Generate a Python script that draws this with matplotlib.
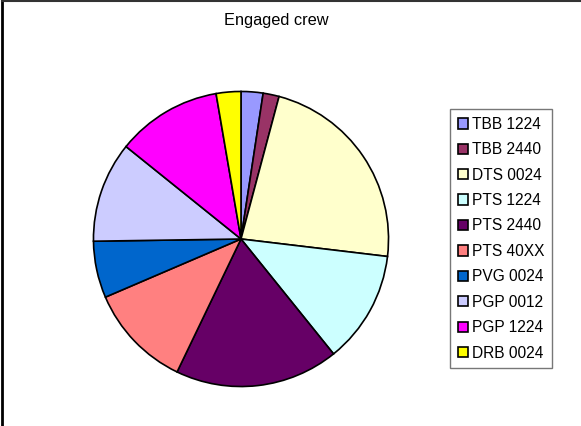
import matplotlib.pyplot as plt
from matplotlib.lines import Line2D

plt.rcParams['font.family'] = ['Liberation Sans', 'DejaVu Sans']

# Share of engaged crew per vessel group (percent)
labels = ['TBB 1224', 'TBB 2440', 'DTS 0024', 'PTS 1224', 'PTS 2440',
          'PTS 40XX', 'PVG 0024', 'PGP 0012', 'PGP 1224', 'DRB 0024']
shares = [2.4, 1.75, 22.7, 12.3, 17.9, 11.4, 6.2, 11.0, 11.5, 2.7]
colors = ['#9999FF', '#993366', '#FFFFCC', '#CCFFFF', '#660066',
          '#FF8080', '#0066CC', '#CCCCFF', '#FF00FF', '#FFFF00']

W, H = 581, 426
fig = plt.figure(figsize=(W / 100, H / 100), dpi=100)

# pie axes: centre (241, 239) px, radius 149 px
cx, cy, r = 241, 239, 149
ax = fig.add_axes([(cx - r) / W, (H - cy - r) / H, 2 * r / W, 2 * r / H])
wedges, _ = ax.pie(shares, colors=colors, startangle=90, counterclock=False,
                   radius=1, wedgeprops=dict(edgecolor='black', linewidth=1.2))
ax.set_xlim(-1.01, 1.01)
ax.set_ylim(-1.01, 1.01)
ax.set_aspect('equal')
ax.axis('off')

fig.text(276 / W, 1 - 20 / H, 'Engaged crew', ha='center', va='center', fontsize=11.8)

leg = fig.legend(wedges, labels, loc='upper left',
                 bbox_to_anchor=(450 / W, 1 - 109 / H),
                 fontsize=11.2, frameon=True, fancybox=False,
                 edgecolor='#555555', borderpad=0.5, labelspacing=0.67,
                 handlelength=0.65, handleheight=0.65, handletextpad=0.25,
                 borderaxespad=0)
leg.get_frame().set_linewidth(1.0)
for h in leg.legend_handles:
    h.set_edgecolor('black')
    h.set_linewidth(1.2)

# chart area border (left and top edges)
fig.add_artist(Line2D([2 / W, 2 / W], [0, 1 - 1 / H], color='black', linewidth=2))
fig.add_artist(Line2D([2 / W, 1], [1 - 1 / H, 1 - 1 / H], color='#333333', linewidth=1.5))

fig.savefig('out.png', dpi=100)
